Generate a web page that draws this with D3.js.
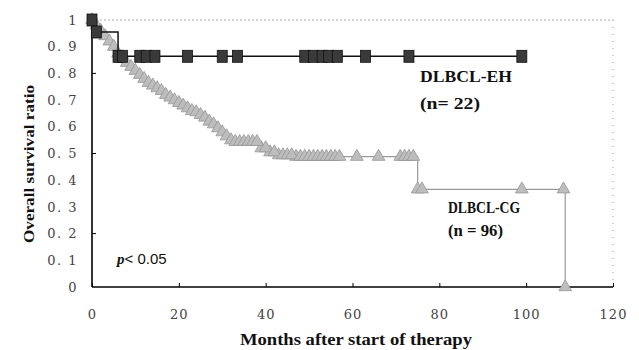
<!DOCTYPE html>
<html>
<head>
<meta charset="utf-8">
<script src="https://cdn.jsdelivr.net/npm/d3@7"></script>
<style>
  body { margin: 0; background: #fff; }
  svg { display: block; }
</style>
</head>
<body>
<div id="chart"></div>
<script>
// DLBCL-EH (n = 22): step curve + censored marks
var ehMonths = [0, 1, 6];
var ehSurv = [1, 0.955, 0.864];
var ehLast = 99;
var ehCensor = [7, 11, 12.5, 14.5, 22, 30, 33.5, 49, 51, 53, 54.5, 56.5, 63, 73, 99];

// DLBCL-CG (n = 96)
var cgMonths = [0, 1, 2, 3, 4, 5, 6, 7, 8, 9, 10, 11, 12, 13, 14, 15, 16, 17, 18, 19, 20,
  21, 22, 23, 24, 25, 26, 27, 28, 29, 30, 31, 32, 33, 39, 41, 43, 47, 75, 109];
var cgSurv = [1, 0.98, 0.96, 0.94, 0.92, 0.9, 0.875, 0.855, 0.84, 0.825, 0.81, 0.795, 0.78,
  0.765, 0.755, 0.745, 0.735, 0.72, 0.71, 0.7, 0.69, 0.68, 0.67, 0.66, 0.655, 0.645, 0.635,
  0.62, 0.61, 0.595, 0.58, 0.565, 0.55, 0.544, 0.52, 0.505, 0.494, 0.488, 0.366, 0];
var cgCensor = [34, 35, 36, 37, 38, 40, 42, 44, 45, 46, 48, 49, 50, 51, 52, 53, 54, 55, 56,
  57, 61, 66, 71, 72, 73, 74, 76, 99, 108.6];

var xTicks = [0, 20, 40, 60, 80, 100, 120];
var yTicks = [0, 0.1, 0.2, 0.3, 0.4, 0.5, 0.6, 0.7, 0.8, 0.9, 1];
var yTickLabels = ["0", "0. 1", "0. 2", "0. 3", "0. 4", "0. 5", "0. 6", "0. 7", "0. 8", "0. 9", "1"];
var yInnerTicks = [0.2, 0.5, 0.8];

var width = 639, height = 350;
var margin = {top: 20, right: 26, bottom: 63, left: 92};

var svg = d3.select("#chart").append("svg")
  .attr("width", width)
  .attr("height", height);

var x = d3.scaleLinear().domain([0, 120]).range([margin.left, width - margin.right]);
var y = d3.scaleLinear().domain([0, 1]).range([height - margin.bottom, margin.top]);

function stepAt(months, surv, t) {
  var i = d3.bisectRight(months, t) - 1;
  return surv[Math.max(i, 0)];
}

var serif = "'Liberation Serif', 'DejaVu Serif', serif";
var tickFont = "'DejaVu Serif', serif";

// frame: dotted top / right, solid left / bottom
svg.append("line")
  .attr("x1", x(0)).attr("x2", x(120)).attr("y1", y(1)).attr("y2", y(1))
  .attr("stroke", "#aaa").attr("stroke-width", 1).attr("stroke-dasharray", "2,2");
svg.append("line")
  .attr("x1", x(120)).attr("x2", x(120)).attr("y1", y(1)).attr("y2", y(0))
  .attr("stroke", "#999").attr("stroke-width", 1).attr("stroke-dasharray", "1,6");

// y axis
var yAxis = svg.append("g")
  .attr("transform", "translate(" + x(0) + ",0)")
  .call(d3.axisLeft(y).tickValues(yTicks).tickSize(0).tickPadding(14)
    .tickFormat(function(d, i) { return yTickLabels[i]; }));
yAxis.select(".domain").remove();
yAxis.selectAll("text")
  .attr("font-family", tickFont).attr("font-size", 13).attr("letter-spacing", 1.5)
  .attr("fill", "#444");

svg.append("g").selectAll("line").data(yInnerTicks).enter().append("line")
  .attr("x1", x(0)).attr("x2", x(0) + 4)
  .attr("y1", function(d) { return y(d); }).attr("y2", function(d) { return y(d); })
  .attr("stroke", "#000");

// x axis
var xAxis = svg.append("g")
  .attr("transform", "translate(0," + y(0) + ")")
  .call(d3.axisBottom(x).tickValues(xTicks).tickSize(-4).tickPadding(23)
    .tickFormat(d3.format("d")));
xAxis.select(".domain").remove();
xAxis.selectAll(".tick line").attr("stroke", "#000");
xAxis.selectAll("text")
  .attr("font-family", tickFont).attr("font-size", 13).attr("letter-spacing", 1)
  .attr("fill", "#444");

svg.append("line")
  .attr("x1", x(0)).attr("x2", x(0)).attr("y1", y(1)).attr("y2", y(0))
  .attr("stroke", "#000").attr("stroke-width", 1.6);
svg.append("line")
  .attr("x1", x(0)).attr("x2", x(120)).attr("y1", y(0)).attr("y2", y(0))
  .attr("stroke", "#000").attr("stroke-width", 1.6);

var line = d3.line()
  .curve(d3.curveStepAfter)
  .x(function(d) { return x(d[0]); })
  .y(function(d) { return y(d[1]); });

// CG curve
var cgPts = cgMonths.map(function(m, i) { return [m, cgSurv[i]]; });
svg.append("path")
  .datum(cgPts)
  .attr("d", line)
  .attr("fill", "none")
  .attr("stroke", "#9a9a9a")
  .attr("stroke-width", 1.2);

var cgMarks = cgPts.concat(cgCensor.map(function(t) { return [t, stepAt(cgMonths, cgSurv, t)]; }));
var tri = d3.symbol().type(d3.symbolTriangle).size(70);
svg.append("g").selectAll("path").data(cgMarks).enter().append("path")
  .attr("d", tri)
  .attr("transform", function(d) { return "translate(" + x(d[0]) + "," + y(d[1]) + ")"; })
  .attr("fill", "#bdbdbd")
  .attr("stroke", "#979797")
  .attr("stroke-width", 0.8);

// EH curve
var ehPts = ehMonths.map(function(m, i) { return [m, ehSurv[i]]; });
ehPts.push([ehLast, ehSurv[ehSurv.length - 1]]);
svg.append("path")
  .datum(ehPts)
  .attr("d", line)
  .attr("fill", "none")
  .attr("stroke", "#111")
  .attr("stroke-width", 1.5);

var ehMarks = ehMonths.map(function(m, i) { return [m, ehSurv[i]]; })
  .concat(ehCensor.map(function(t) { return [t, stepAt(ehMonths, ehSurv, t)]; }));
svg.append("g").selectAll("rect").data(ehMarks).enter().append("rect")
  .attr("x", function(d) { return x(d[0]) - 5; })
  .attr("y", function(d) { return y(d[1]) - 6; })
  .attr("width", 10)
  .attr("height", 12)
  .attr("fill", "#3a3a3a")
  .attr("stroke", "#111")
  .attr("stroke-width", 0.8);

// labels
function label(txt, px, py, size, len) {
  var t = svg.append("text")
    .attr("x", px).attr("y", py)
    .attr("font-family", serif)
    .attr("font-weight", "bold")
    .attr("font-size", size)
    .attr("fill", "#111")
    .text(txt);
  if (len) t.attr("textLength", len).attr("lengthAdjust", "spacingAndGlyphs");
  return t;
}
label("DLBCL-EH", 420, 82, 17, 92);
label("(n= 22)", 420, 109, 16, 60);
label("DLBCL-CG", 448, 213, 17, 72);
label("(n = 96)", 448, 236, 16, 55);

var pt = svg.append("text")
  .attr("x", 117).attr("y", 264)
  .attr("font-size", 15)
  .attr("fill", "#111");
pt.append("tspan").attr("font-family", serif).attr("font-weight", "bold")
  .attr("font-style", "italic").text("p");
pt.append("tspan").attr("font-family", "'Liberation Sans', Arial, sans-serif").text("< 0.05");

label("Months after start of therapy", 240, 345, 16, 232);

svg.append("text")
  .attr("transform", "translate(34,164) rotate(-90)")
  .attr("text-anchor", "middle")
  .attr("font-family", serif)
  .attr("font-weight", "bold")
  .attr("font-size", 14)
  .attr("fill", "#111")
  .attr("textLength", 158)
  .attr("lengthAdjust", "spacingAndGlyphs")
  .text("Overall survival ratio");
</script>
</body>
</html>
